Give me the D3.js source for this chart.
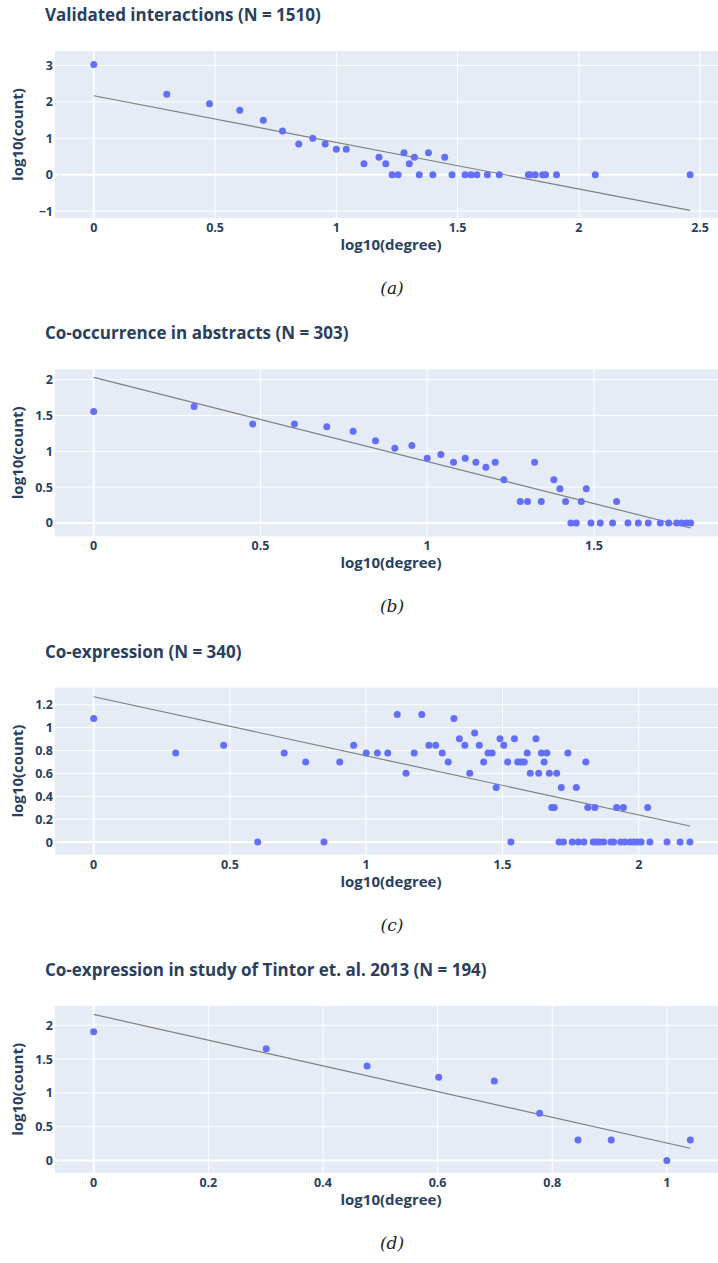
<!DOCTYPE html>
<html>
<head>
<meta charset="utf-8">
<script src="https://cdn.jsdelivr.net/npm/d3@7"></script>
<style>
  body { margin: 0; background: white; }
  svg { display: block; }
</style>
</head>
<body>
<div id="chart"></div>
<script>
// (a) Validated interactions
const xA = [0, 0.301, 0.477, 0.602, 0.699, 0.778, 0.845, 0.903, 0.954, 1, 1.041,
  1.114, 1.176, 1.204, 1.23, 1.255, 1.279, 1.301, 1.322, 1.342, 1.38, 1.398, 1.447,
  1.477, 1.531, 1.556, 1.58, 1.623, 1.672, 1.792, 1.799, 1.82, 1.851, 1.863, 1.908,
  2.068, 2.459];
const yA = [3.03, 2.21, 1.95, 1.77, 1.5, 1.2, 0.845, 1, 0.845, 0.699, 0.699,
  0.301, 0.477, 0.301, 0, 0, 0.602, 0.301, 0.477, 0, 0.602, 0, 0.477,
  0, 0, 0, 0, 0, 0, 0, 0, 0, 0, 0, 0,
  0, 0];
const fitA = [[0, 2.17], [2.459, -0.98]];

// (b) Co-occurrence in abstracts
const xB = [0, 0.301, 0.477, 0.602, 0.699, 0.778, 0.845, 0.903, 0.954, 1, 1.041,
  1.079, 1.114, 1.146, 1.176, 1.204, 1.23, 1.279, 1.301, 1.322, 1.342, 1.38, 1.398,
  1.415, 1.431, 1.447, 1.462, 1.477, 1.491, 1.519, 1.556, 1.568, 1.602, 1.633, 1.663,
  1.699, 1.724, 1.748, 1.763, 1.778, 1.79];
const yB = [1.556, 1.623, 1.38, 1.38, 1.342, 1.279, 1.146, 1.041, 1.079, 0.903, 0.954,
  0.845, 0.903, 0.845, 0.778, 0.845, 0.602, 0.301, 0.301, 0.845, 0.301, 0.602, 0.477,
  0.301, 0, 0, 0.301, 0.477, 0, 0, 0, 0.301, 0, 0, 0,
  0, 0, 0, 0, 0, 0];
const fitB = [[0, 2.03], [1.79, -0.07]];

// (c) Co-expression
const xC = [0, 0.301, 0.477, 0.602, 0.699, 0.778, 0.845, 0.903, 0.954, 1, 1.041,
  1.079, 1.114, 1.146, 1.176, 1.204, 1.23, 1.255, 1.279, 1.301, 1.322, 1.342, 1.362,
  1.38, 1.398, 1.415, 1.431, 1.447, 1.462, 1.477, 1.491, 1.505, 1.519, 1.531, 1.544,
  1.556, 1.568, 1.58, 1.591, 1.602, 1.623, 1.633, 1.643, 1.653, 1.663, 1.672, 1.681,
  1.69, 1.699, 1.708, 1.716, 1.724, 1.74, 1.756, 1.771, 1.778, 1.799, 1.806, 1.813,
  1.833, 1.839, 1.845, 1.857, 1.872, 1.898, 1.908, 1.919, 1.934, 1.944, 1.949, 1.968,
  1.982, 1.996, 2.009, 2.033, 2.041, 2.104, 2.152, 2.188];
const yC = [1.079, 0.778, 0.845, 0, 0.778, 0.699, 0, 0.699, 0.845, 0.778, 0.778,
  0.778, 1.114, 0.602, 0.778, 1.114, 0.845, 0.845, 0.778, 0.699, 1.079, 0.903, 0.845,
  0.602, 0.954, 0.845, 0.699, 0.778, 0.778, 0.477, 0.903, 0.845, 0.699, 0, 0.903,
  0.699, 0.699, 0.699, 0.778, 0.602, 0.903, 0.602, 0.778, 0.699, 0.778, 0.602, 0.301,
  0.301, 0.602, 0, 0.477, 0, 0.778, 0, 0.477, 0, 0, 0.699, 0.301,
  0, 0.301, 0, 0, 0, 0, 0, 0.301, 0, 0.301, 0, 0,
  0, 0, 0, 0.301, 0, 0, 0, 0];
const fitC = [[0, 1.27], [2.188, 0.14]];

// (d) Co-expression in study of Tintor et. al. 2013
const xD = [0, 0.301, 0.477, 0.602, 0.699, 0.778, 0.845, 0.903, 1, 1.041];
const yD = [1.903, 1.653, 1.398, 1.23, 1.176, 0.699, 0.301, 0.301, 0, 0.301];
const fitD = [[0, 2.16], [1.041, 0.18]];

const titles = [
  "Validated interactions (N = 1510)",
  "Co-occurrence in abstracts (N = 303)",
  "Co-expression (N = 340)",
  "Co-expression in study of Tintor et. al. 2013 (N = 194)"
];
const captions = ["(a)", "(b)", "(c)", "(d)"];
const xTicks = [
  [0, 0.5, 1, 1.5, 2, 2.5],
  [0, 0.5, 1, 1.5],
  [0, 0.5, 1, 1.5, 2],
  [0, 0.2, 0.4, 0.6, 0.8, 1]
];
const yTicks = [
  [-1, 0, 1, 2, 3],
  [0, 0.5, 1, 1.5, 2],
  [0, 0.2, 0.4, 0.6, 0.8, 1, 1.2],
  [0, 0.5, 1, 1.5, 2]
];
const xRanges = [[-0.16, 2.611], [-0.116, 1.899], [-0.142, 2.324], [-0.0675, 1.105]];
const yRanges = [[-1.19, 3.40], [-0.186, 2.143], [-0.11, 1.35], [-0.184, 2.286]];

const panels = [
  {x: xA, y: yA, fit: fitA},
  {x: xB, y: yB, fit: fitB},
  {x: xC, y: yC, fit: fitC},
  {x: xD, y: yD, fit: fitD}
];

const W = 718, H = 1263;
const left = 55, right = 727, plotH = 167, step = 318.3, top0 = 51;
const textColor = "#2a3f5f";
const font = "'Open Sans', Arial, sans-serif";

const svg = d3.select("#chart")
  .append("svg")
  .attr("width", W)
  .attr("height", H)
  .style("font-family", font);

const fmt = d3.format("~g");

panels.forEach(function (p, i) {
  let top = top0 + step * i;
  let bottom = top + plotH;
  let g = svg.append("g");

  const x = d3.scaleLinear().domain(xRanges[i]).range([left, right]);
  const y = d3.scaleLinear().domain(yRanges[i]).range([bottom, top]);

  g.append("rect")
    .attr("x", left)
    .attr("y", top)
    .attr("width", right - left)
    .attr("height", plotH)
    .attr("fill", "#e5ecf6");

  // grid
  g.selectAll(".vgrid")
    .data(xTicks[i])
    .join("line")
    .attr("x1", d => x(d))
    .attr("x2", d => x(d))
    .attr("y1", top)
    .attr("y2", bottom)
    .attr("stroke", "white")
    .attr("stroke-width", d => d === 0 ? 2 : 1);
  g.selectAll(".hgrid")
    .data(yTicks[i])
    .join("line")
    .attr("x1", left)
    .attr("x2", right)
    .attr("y1", d => y(d))
    .attr("y2", d => y(d))
    .attr("stroke", "white")
    .attr("stroke-width", d => d === 0 ? 2 : 1);

  // tick labels
  g.selectAll(".xt")
    .data(xTicks[i])
    .join("text")
    .attr("x", d => x(d))
    .attr("y", bottom + 14)
    .attr("text-anchor", "middle")
    .attr("fill", textColor)
    .attr("font-size", 12.5)
    .attr("font-weight", "bold")
    .text(d => fmt(d));
  g.selectAll(".yt")
    .data(yTicks[i])
    .join("text")
    .attr("x", 53)
    .attr("y", d => y(d) + 4.5)
    .attr("text-anchor", "end")
    .attr("fill", textColor)
    .attr("font-size", 12.5)
    .attr("font-weight", "bold")
    .text(d => fmt(d));

  // fit line
  const pts_to_path = d3.line()
    .x(d => x(d[0]))
    .y(d => y(d[1]));
  g.append("path")
    .attr("d", pts_to_path(p.fit))
    .attr("stroke", "#7f7f7f")
    .attr("stroke-width", 1.2)
    .attr("fill", "none");

  // points
  g.selectAll("circle")
    .data(d3.range(p.x.length))
    .join("circle")
    .attr("cx", k => x(p.x[k]))
    .attr("cy", k => y(p.y[k]))
    .attr("r", 3.5)
    .attr("fill", "#636efa");

  // titles
  g.append("text")
    .attr("x", 45)
    .attr("y", top - 30)
    .attr("fill", textColor)
    .attr("font-size", 17)
    .attr("font-weight", "bold")
    .text(titles[i]);
  g.append("text")
    .attr("x", 391)
    .attr("y", bottom + 32)
    .attr("text-anchor", "middle")
    .attr("fill", textColor)
    .attr("font-size", 15)
    .attr("font-weight", "bold")
    .text("log10(degree)");
  g.append("text")
    .attr("transform", `translate(23,${(top + bottom) / 2}) rotate(-90)`)
    .attr("text-anchor", "middle")
    .attr("fill", textColor)
    .attr("font-size", 15)
    .attr("font-weight", "bold")
    .text("log10(count)");

  // caption
  g.append("text")
    .attr("x", 392)
    .attr("y", bottom + 76)
    .attr("text-anchor", "middle")
    .attr("fill", "#222")
    .attr("font-size", 17)
    .attr("font-style", "italic")
    .attr("font-family", "'DejaVu Serif', 'Liberation Serif', serif")
    .text(captions[i]);
});
</script>
</body>
</html>
